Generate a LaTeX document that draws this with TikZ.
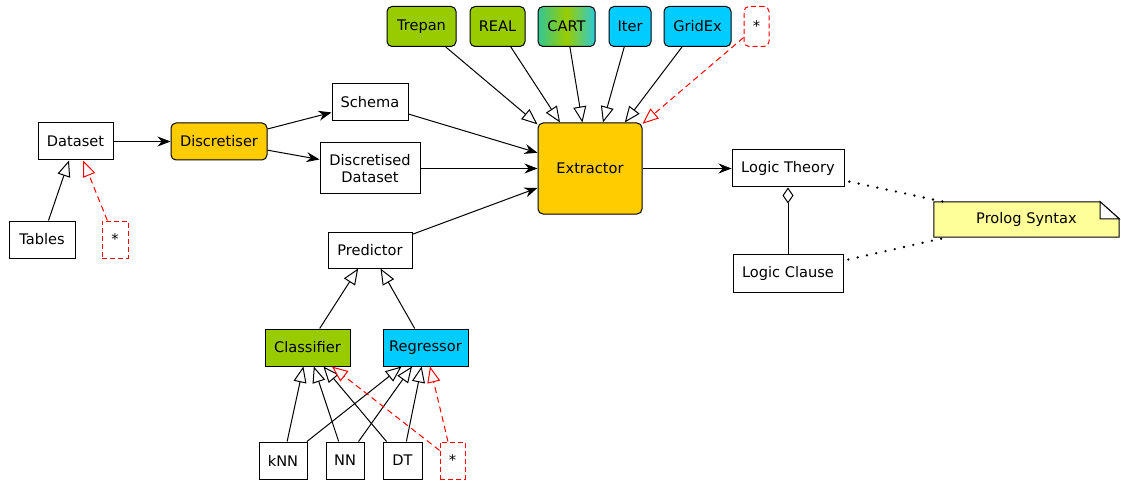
\documentclass[tikz,border=0pt]{standalone}
\usepackage{fontspec}
\setmainfont{DejaVu Sans}
\usetikzlibrary{arrows.meta}
\definecolor{ygreen}{HTML}{99CC00}
\definecolor{cyanb}{HTML}{00CCFF}
\definecolor{orangeb}{HTML}{FFCC00}
\definecolor{notey}{HTML}{FFFF99}
\definecolor{cartl}{HTML}{33C795}
\definecolor{cartr}{HTML}{2BCBD8}
\tikzset{
  box/.style={draw=black, line width=1pt, fill=white, inner sep=0pt, align=center,
    font=\fontsize{14.6}{17.5}\selectfont},
  rbox/.style={box, rounded corners=5pt},
  sbox/.style={box, draw=red, dash pattern=on 5pt off 3pt},
  arr/.style={line width=1pt, -{Stealth[length=13pt,width=10pt]}},
  inh/.style={line width=1pt, -{Triangle[open,length=16pt,width=13pt,fill=white]}},
  rinh/.style={inh, draw=red, dash pattern=on 6pt off 4pt},
  dots/.style={line width=2.6pt, line cap=round, dash pattern=on 0pt off 9.5pt},
}
\begin{document}
\begin{tikzpicture}[x=1pt,y=-1pt]
\useasboundingbox (0,0) rectangle (1121,481);
% top row
\node[rbox, fill=ygreen, minimum width=69, minimum height=40] (trepan) at (421.5,26.5) {Trepan};
\node[rbox, fill=ygreen, minimum width=55, minimum height=40] (real) at (497.5,26.5) {REAL};
\node[rbox, left color=cartl, right color=cartr, middle color=ygreen, minimum width=57, minimum height=40] (cart) at (566.5,26.5) {CART};
\node[rbox, fill=cyanb, minimum width=42, minimum height=40] (iter) at (630,26.5) {Iter};
\node[rbox, fill=cyanb, minimum width=67, minimum height=40] (gridex) at (697.5,26.5) {GridEx};
\node[sbox, rounded corners=5pt, minimum width=25, minimum height=40] (stop) at (756.5,26.5) {*};
% middle
\node[rbox, fill=orangeb, minimum width=104, minimum height=91] (ext) at (590,168.5) {Extractor};
\node[box, minimum width=76, minimum height=37] (schema) at (370,102.5) {Schema};
\node[box, minimum width=100, minimum height=51] (ddata) at (370,168.5) {Discretised\\Dataset};
\node[box, minimum width=84, minimum height=36] (pred) at (370,250) {Predictor};
\node[box, minimum width=75, minimum height=37] (data) at (75.5,141.5) {Dataset};
\node[rbox, fill=orangeb, minimum width=96, minimum height=37] (disc) at (219,141.5) {Discretiser};
\node[box, minimum width=66, minimum height=37] (tables) at (42,239.5) {Tables};
\node[sbox, minimum width=26, minimum height=37] (sleft) at (115,239.5) {*};
% bottom
\node[box, fill=ygreen, minimum width=85, minimum height=37] (cls) at (307.5,347.5) {Classifier};
\node[box, fill=cyanb, minimum width=85, minimum height=37] (reg) at (425.5,347.5) {Regressor};
\node[box, minimum width=48, minimum height=37] (knn) at (283,460.5) {kNN};
\node[box, minimum width=38, minimum height=37] (nn) at (345,460.5) {NN};
\node[box, minimum width=39, minimum height=37] (dt) at (402.5,460.5) {DT};
\node[sbox, minimum width=25, minimum height=37] (sbot) at (452.5,460.5) {*};
% right
\node[box, minimum width=112, minimum height=37] (lt) at (788,168.5) {Logic Theory};
\node[box, minimum width=110, minimum height=38] (lc) at (788,273) {Logic Clause};
\node[minimum width=185, minimum height=35, inner sep=0pt] (note) at (1026.5,219.5) {};
\draw[line width=1pt, fill=notey] (note.south west) -- (note.north west) -- ([xshift=-19pt]note.north east)
  -- ([yshift=-17pt]note.north east) -- (note.south east) -- cycle;
\draw[line width=1pt, fill=white] ([xshift=-19pt]note.north east) -- ([xshift=-19pt,yshift=-17pt]note.north east) -- ([yshift=-17pt]note.north east) -- cycle;
\node[font=\fontsize{14.6}{17.5}\selectfont] (notetext) at (note) {Prolog Syntax};
% connectors
\draw[arr] (data) -- (disc);
\draw[arr] (disc) -- (schema);
\draw[arr] (disc) -- (ddata);
\draw[arr] (schema) -- (ext);
\draw[arr] (ddata) -- (ext);
\draw[arr] (pred) -- (ext);
\draw[arr] (ext) -- (lt);
\draw[inh] (trepan) -- (ext);
\draw[inh] (real) -- (ext);
\draw[inh] (cart) -- (ext);
\draw[inh] (iter) -- (ext);
\draw[inh] (gridex) -- (ext);
\draw[rinh] (stop) -- (ext);
\draw[inh] (tables) -- (data);
\draw[rinh] (sleft) -- (data);
\draw[inh] (cls) -- (pred);
\draw[inh] (reg) -- (pred);
\draw[inh] (knn) -- (cls);
\draw[inh] (nn) -- (cls);
\draw[inh] (dt) -- (cls);
\draw[inh] (knn) -- (reg);
\draw[inh] (nn) -- (reg);
\draw[inh] (dt) -- (reg);
\draw[rinh] (sbot) -- (cls);
\draw[rinh] (sbot) -- (reg);
\draw[line width=1pt, -{Diamond[open,length=16pt,width=11pt,fill=white]}] (lc) -- (lt);
\draw[dots, shorten <=5pt] (lt) -- (note);
\draw[dots, shorten <=5pt] (lc) -- (note);
\end{tikzpicture}
\end{document}
